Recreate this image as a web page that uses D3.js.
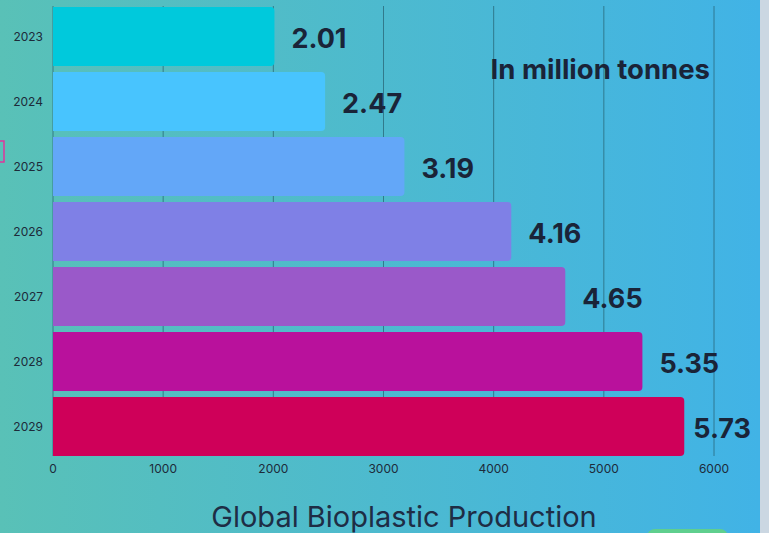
<!DOCTYPE html>
<html>
<head>
<meta charset="utf-8">
<style>
  body {
    margin: 0;
    overflow: hidden;
  }
  text {
    font-family: Inter, "Noto Sans", sans-serif;
  }
</style>
<script type="text/javascript" src="https://cdn.jsdelivr.net/npm/d3@7"></script>
</head>
<body>
<svg id="chart"></svg>
<script type="text/javascript">
let years = ['2023', '2024', '2025', '2026', '2027', '2028', '2029']
let production = [2010, 2470, 3190, 4160, 4650, 5350, 5730]   // thousand tonnes
let valueLabels = ['2.01', '2.47', '3.19', '4.16', '4.65', '5.35', '5.73']
let xTicks = [0, 1000, 2000, 3000, 4000, 5000, 6000]
let barColors = ['#00c9dc', '#48c4fe', '#63a7f8', '#7f80e6', '#9a59c9', '#b9119c', '#cf0059']

let width = 769,
    height = 533

let svg = d3.select('#chart')
    .attr('width', width)
    .attr('height', height)

// background gradient
let defs = svg.append('defs')
let grad = defs.append('linearGradient')
    .attr('id', 'bg')
    .attr('x1', '0%').attr('x2', '100%')
    .attr('y1', '0%').attr('y2', '0%')
grad.append('stop').attr('offset', '0%').attr('stop-color', '#59c1b7')
grad.append('stop').attr('offset', '100%').attr('stop-color', '#41b3e6')

svg.append('rect')
    .attr('width', 760).attr('height', height)
    .attr('fill', 'url(#bg)')
svg.append('rect')
    .attr('x', 760).attr('width', 9).attr('height', height)
    .attr('fill', '#cbd7e2')

let x = d3.scaleLinear()
    .domain([0, 6000])
    .range([53, 714])

let y = d3.scaleBand()
    .domain(years)
    .range([7, 456])
    .paddingInner(0.092)
    .paddingOuter(0)

// grid lines
svg.append('g')
    .selectAll('line')
    .data(xTicks)
    .enter()
    .append('line')
    .attr('x1', d => x(d)).attr('x2', d => x(d))
    .attr('y1', 6).attr('y2', 456)
    .attr('stroke', '#25606f')
    .attr('stroke-opacity', 0.7)
    .attr('stroke-width', 1)

// bars with rounded right corners
function barPath(x0, x1, y0, h, r) {
  return 'M' + x0 + ',' + y0 +
    'H' + (x1 - r) +
    'Q' + x1 + ',' + y0 + ' ' + x1 + ',' + (y0 + r) +
    'V' + (y0 + h - r) +
    'Q' + x1 + ',' + (y0 + h) + ' ' + (x1 - r) + ',' + (y0 + h) +
    'H' + x0 + 'Z'
}

svg.append('g')
    .selectAll('path')
    .data(production)
    .enter()
    .append('path')
    .attr('d', (d, i) => barPath(x(0), x(d), y(years[i]), y.bandwidth(), 4))
    .attr('fill', (d, i) => barColors[i])

// value labels
let labels = svg.append('g')
    .selectAll('text')
    .data(production)
    .enter()
    .append('text')
    .attr('x', d => x(d) + 17)
    .attr('y', (d, i) => y(years[i]) + y.bandwidth() / 2 + 2)
    .attr('dy', '0.36em')
    .attr('font-size', 27)
    .attr('font-weight', 700)
    .attr('fill', '#1a2438')
    .text((d, i) => valueLabels[i])

// keep the last label inside the plot
labels.each(function(d) {
  let w = this.getComputedTextLength()
  let xx = Math.min(x(d) + 17, 751 - w)
  d3.select(this).attr('x', xx)
})

// y axis labels
svg.append('g')
    .selectAll('text')
    .data(years)
    .enter()
    .append('text')
    .attr('x', 43)
    .attr('y', d => y(d) + y.bandwidth() / 2)
    .attr('dy', '0.35em')
    .attr('text-anchor', 'end')
    .attr('font-size', 12)
    .attr('fill', '#1d2b3a')
    .text(d => d)

// x axis labels
svg.append('g')
    .selectAll('text')
    .data(xTicks)
    .enter()
    .append('text')
    .attr('x', d => x(d))
    .attr('y', 469)
    .attr('dy', '0.35em')
    .attr('text-anchor', 'middle')
    .attr('font-size', 12)
    .attr('fill', '#1d2b3a')
    .text(d => d)

svg.append('text')
    .attr('x', 710)
    .attr('y', 79)
    .attr('text-anchor', 'end')
    .attr('font-size', 27.5)
    .attr('font-weight', 700)
    .attr('fill', '#1a2438')
    .text('In million tonnes')

svg.append('text')
    .attr('x', 404)
    .attr('y', 527)
    .attr('text-anchor', 'middle')
    .attr('font-size', 29)
    .attr('font-weight', 400)
    .attr('fill', '#1e2d45')
    .text('Global Bioplastic Production')

// small decorations at the edges
svg.append('path')
    .attr('d', 'M0,141 H4 V162 H0')
    .attr('fill', 'none')
    .attr('stroke', '#e0359c')
    .attr('stroke-width', 1.5)

svg.append('rect')
    .attr('x', 647).attr('y', 529)
    .attr('width', 81).attr('height', 20)
    .attr('rx', 8)
    .attr('fill', '#5fcf8e')
</script>
</body>
</html>
